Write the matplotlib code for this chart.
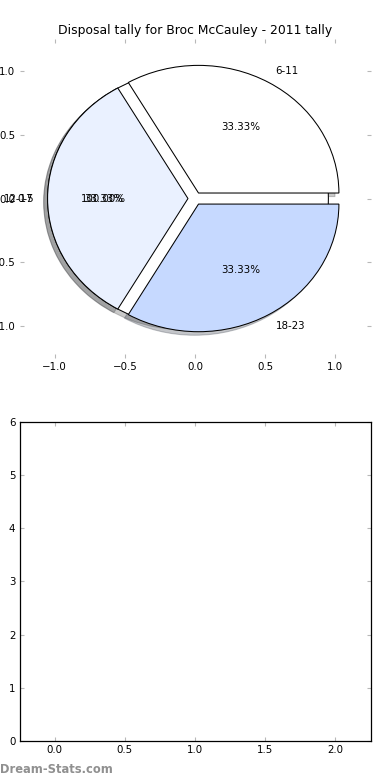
import matplotlib
matplotlib.use("Agg")
import matplotlib.pyplot as plt

# earlier tally drawn first (single full slice), then the 2011 tally on top
PREV_LABELS = ["0-5"]
PREV_VALUES = [1]

BUCKET_LABELS = ["6-11", "12-17", "18-23"]
BUCKET_VALUES = [1, 1, 1]
BUCKET_COLORS = ["#FFFFFF", "#EAF1FF", "#C6D9FF"]

X_TICKS = [0.0, 0.5, 1.0, 1.5, 2.0]
Y_TICKS = [0, 1, 2, 3, 4, 5, 6]

FS = 7.4
TICK_GREY = "#b8b8b8"


def style_ticks(ax):
    ax.tick_params(direction="in", length=3, width=0.8, color=TICK_GREY,
                   labelsize=FS, top=True, right=True, pad=3)


fig, (ax_pie, ax_bar) = plt.subplots(2, 1, figsize=(3.9, 7.8), dpi=100)
fig.subplots_adjust(left=0.05, right=0.95, bottom=0.05, top=0.95, hspace=0.2)

wedge_style = {"edgecolor": "black", "linewidth": 0.75}
shadow_style = {"ox": -0.02, "oy": -0.02, "alpha": 0.3}

ax_pie.pie(PREV_VALUES, labels=PREV_LABELS, explode=[0.05], colors=["#FFFFFF"],
           autopct="%1.2f%%", shadow=shadow_style, wedgeprops=wedge_style,
           textprops={"fontsize": FS})
ax_pie.pie(BUCKET_VALUES, labels=BUCKET_LABELS, explode=[0.05] * len(BUCKET_VALUES),
           colors=BUCKET_COLORS, autopct="%1.2f%%", shadow=shadow_style,
           wedgeprops=wedge_style, textprops={"fontsize": FS})

ax_pie.set_aspect("auto")
ax_pie.set_frame_on(False)
ax_pie.set_xlim(-1.25, 1.25)
ax_pie.set_ylim(-1.25, 1.25)
ax_pie.set_xticks([-1.0, -0.5, 0.0, 0.5, 1.0])
ax_pie.set_yticks([-1.0, -0.5, 0.0, 0.5, 1.0])
style_ticks(ax_pie)
ax_pie.set_title("Disposal tally for Broc McCauley - 2011 tally", fontsize=8.9, pad=3.5)

ax_bar.set_xlim(-0.25, 2.25)
ax_bar.set_ylim(0, 6)
ax_bar.set_xticks(X_TICKS)
ax_bar.set_yticks(Y_TICKS)
style_ticks(ax_bar)
for spine in ax_bar.spines.values():
    spine.set_linewidth(0.9)

fig.text(0.0, 0.009, "Dream-Stats.com", fontsize=8.3, color="#909090",
         fontweight="bold", ha="left", va="baseline")

fig.savefig("out.png", dpi=100)
